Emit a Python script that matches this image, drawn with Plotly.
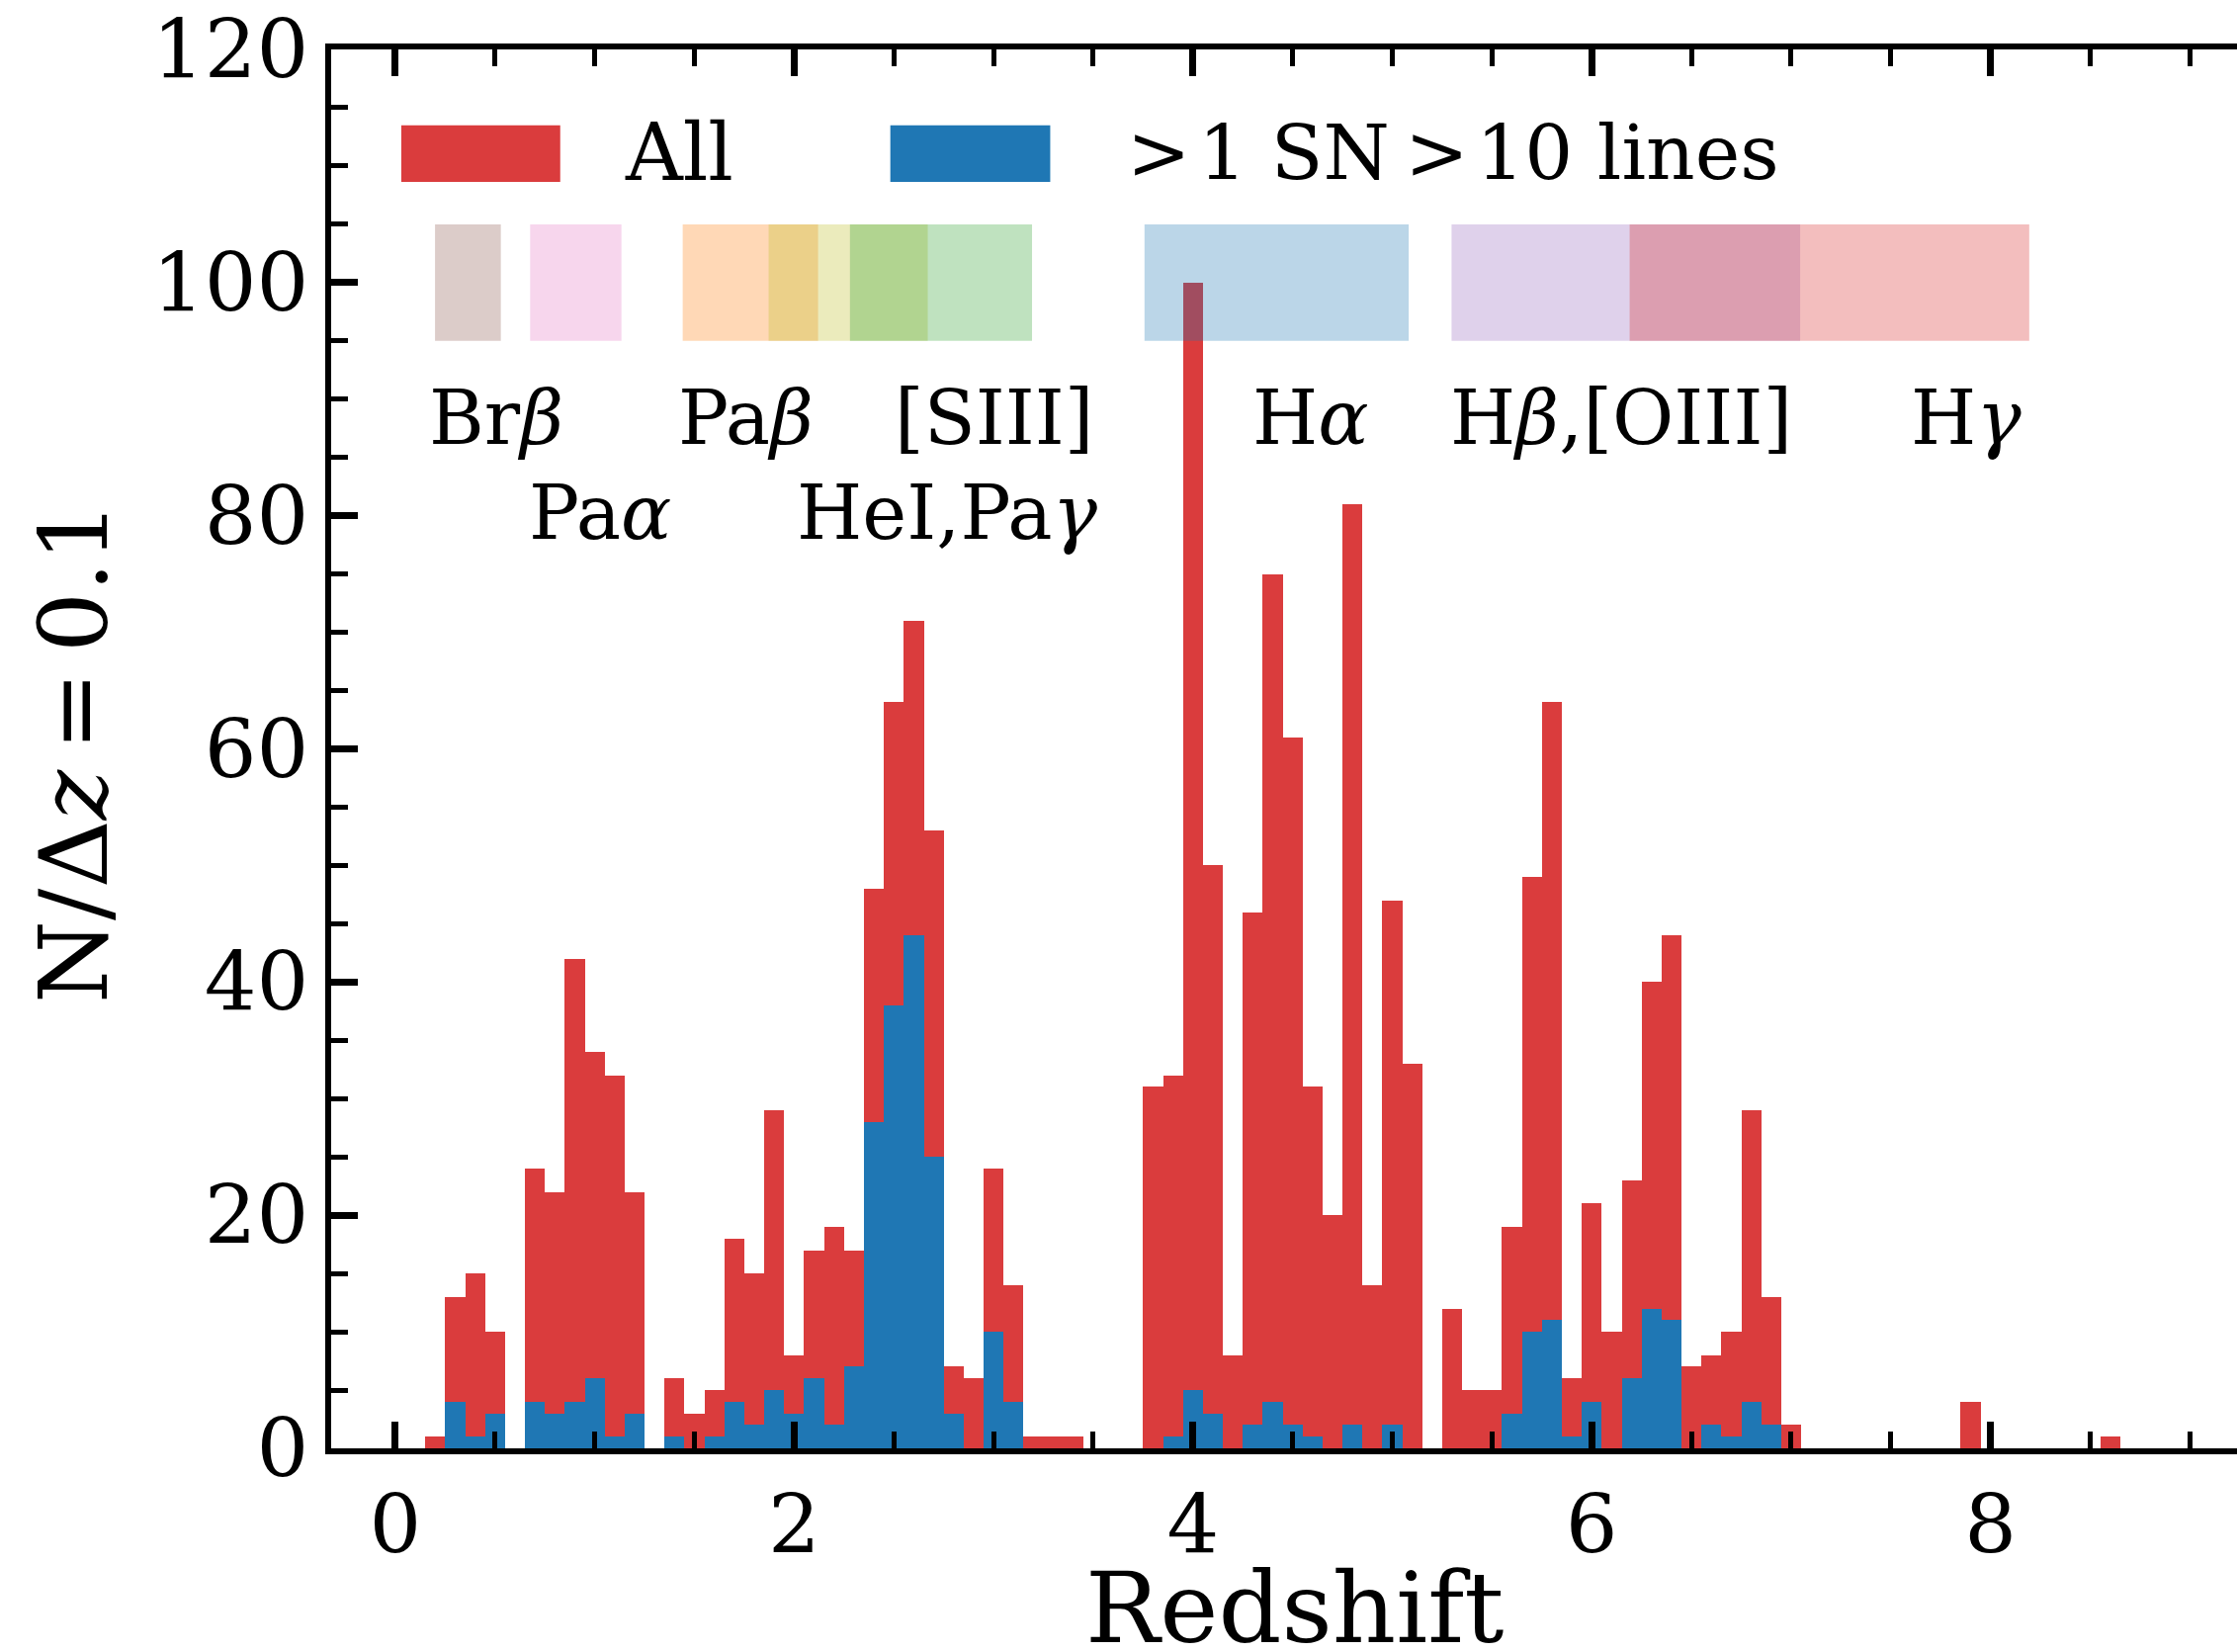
import plotly.graph_objects as go

# ---------------- data ----------------
z_centers = [0.2, 0.3, 0.4, 0.5, 0.6, 0.7, 0.8, 0.9, 1.0, 1.1, 1.2, 1.3, 1.4, 1.5, 1.6, 1.7,
             1.8, 1.9, 2.0, 2.1, 2.2, 2.3, 2.4, 2.5, 2.6, 2.7, 2.8, 2.9, 3.0, 3.1, 3.2, 3.3,
             3.4, 3.5, 3.6, 3.7, 3.8, 3.9, 4.0, 4.1, 4.2, 4.3, 4.4, 4.5, 4.6, 4.7, 4.8, 4.9,
             5.0, 5.1, 5.2, 5.3, 5.4, 5.5, 5.6, 5.7, 5.8, 5.9, 6.0, 6.1, 6.2, 6.3, 6.4, 6.5,
             6.6, 6.7, 6.8, 6.9, 7.0, 7.9, 8.6]
all_counts = [1, 13, 15, 10, 0, 24, 22, 42, 34, 32, 22, 0, 6, 3, 5, 18,
              15, 29, 8, 17, 19, 17, 48, 64, 71, 53, 7, 6, 24, 14, 1, 1,
              1, 0, 0, 0, 31, 32, 100, 50, 8, 46, 75, 61, 31, 20, 81, 14,
              47, 33, 0, 12, 5, 5, 19, 49, 64, 6, 21, 10, 23, 40, 44, 7,
              8, 10, 29, 13, 2, 4, 1]
sn_counts = [0, 4, 1, 3, 0, 4, 3, 4, 6, 1, 3, 0, 1, 0, 1, 4,
             2, 5, 3, 6, 2, 7, 28, 38, 44, 25, 3, 0, 10, 4, 0, 0,
             0, 0, 0, 0, 0, 1, 5, 3, 0, 2, 4, 2, 1, 0, 2, 0,
             2, 0, 0, 0, 0, 0, 3, 10, 11, 1, 4, 0, 6, 12, 11, 0,
             2, 1, 4, 2, 0, 0, 0]
bin_width = 0.1

series_names = ["All", ">\u200a1 SN\u2009>\u200a10 lines"]

# line coverage bands (redshift ranges)
band_names = ["Br<i>β</i>", "Pa<i>α</i>", "Pa<i>β</i>", "HeI,Pa<i>γ</i>", "[SIII]",
              "H<i>α</i>", "H<i>β</i>,[OIII]", "H<i>γ</i>"]
band_zmin = [0.199, 0.676, 1.441, 1.872, 2.28, 3.757, 5.297, 6.19]
band_zmax = [0.529, 1.134, 2.12, 2.67, 3.193, 5.082, 7.045, 8.194]
band_rgb = ["140,86,75", "227,119,194", "255,127,14", "188,189,34", "44,160,44",
            "31,119,180", "148,103,189", "214,39,40"]
label_x = [0.508, 1.024, 1.758, 2.767, 3.0, 4.589, 6.148, 7.877]
label_y = [88.4, 80.3, 88.4, 80.3, 88.4, 88.4, 88.4, 88.4]

FONT = "DejaVu Serif"

fig = go.Figure()
fig.add_trace(go.Bar(x=z_centers, y=all_counts, width=bin_width,
                     marker=dict(color="rgba(214,39,40,0.9)", line=dict(width=0)),
                     name=series_names[0], showlegend=False))
fig.add_trace(go.Bar(x=z_centers, y=sn_counts, width=bin_width,
                     marker=dict(color="#1f77b4", line=dict(width=0)),
                     name=series_names[1], showlegend=False))

shapes = []
for z0, z1, rgb in zip(band_zmin, band_zmax, band_rgb):
    shapes.append(dict(type="rect", xref="x", yref="y", x0=z0, x1=z1, y0=95, y1=105,
                       fillcolor=f"rgba({rgb},0.3)", line=dict(width=0), layer="above"))

# manual legend
shapes.append(dict(type="rect", xref="paper", yref="paper", x0=0.0368, x1=0.1202,
                   y0=0.9053, y1=0.9458, fillcolor="rgba(214,39,40,0.9)", line=dict(width=0)))
shapes.append(dict(type="rect", xref="paper", yref="paper", x0=0.2934, x1=0.3773,
                   y0=0.9053, y1=0.9458, fillcolor="#1f77b4", line=dict(width=0)))

annotations = []
for name, lx, ly in zip(band_names, label_x, label_y):
    annotations.append(dict(text=name, x=lx, y=ly, xref="x", yref="y", showarrow=False,
                            xanchor="center", yanchor="middle",
                            font=dict(family=FONT, size=76, color="black")))
annotations.append(dict(text=series_names[0], x=0.1529, y=0.9265, xref="paper", yref="paper",
                        showarrow=False, xanchor="left", yanchor="middle",
                        font=dict(family=FONT, size=80, color="black")))
annotations.append(dict(text=series_names[1], x=0.4165, y=0.9265, xref="paper", yref="paper",
                        showarrow=False, xanchor="left", yanchor="middle",
                        font=dict(family=FONT, size=77, color="black")))
# axis titles
annotations.append(dict(text="Redshift", x=0.5057, y=-0.1141, xref="paper", yref="paper",
                        showarrow=False, xanchor="center", yanchor="middle",
                        font=dict(family=FONT, size=100, color="black")))
annotations.append(dict(text="N/Δ<i>z</i>\u2009=\u20090.1", x=-0.1349, y=0.4975, xref="paper", yref="paper",
                        showarrow=False, xanchor="center", yanchor="middle", textangle=-90,
                        font=dict(family=FONT, size=96, color="black")))

fig.update_layout(
    width=2263, height=1671, autosize=False,
    margin=dict(l=335, r=0, t=50, b=206, pad=0),
    paper_bgcolor="white", plot_bgcolor="white",
    barmode="overlay", bargap=0,
    shapes=shapes, annotations=annotations,
    font=dict(family=FONT, color="black"),
)
fig.update_xaxes(range=[-0.322, 9.236], tickmode="linear", tick0=0, dtick=2,
                 ticks="inside", ticklen=27, tickwidth=7, tickcolor="black",
                 minor=dict(dtick=0.5, tick0=0, ticks="inside", ticklen=17, tickwidth=5,
                            tickcolor="black", showgrid=False),
                 showline=True, linewidth=6, linecolor="black", mirror="allticks",
                 showgrid=False, zeroline=False,
                 tickfont=dict(family=FONT, size=83, color="black"))
fig.update_yaxes(range=[0, 120], tickmode="linear", tick0=0, dtick=20,
                 ticks="inside", ticklen=27, tickwidth=7, tickcolor="black",
                 minor=dict(dtick=5, tick0=0, ticks="inside", ticklen=17, tickwidth=5,
                            tickcolor="black", showgrid=False),
                 showline=True, linewidth=6, linecolor="black", mirror=False,
                 showgrid=False, zeroline=False,
                 tickfont=dict(family=FONT, size=83, color="black"))

fig.write_html("out.html", config={"displayModeBar": False})
